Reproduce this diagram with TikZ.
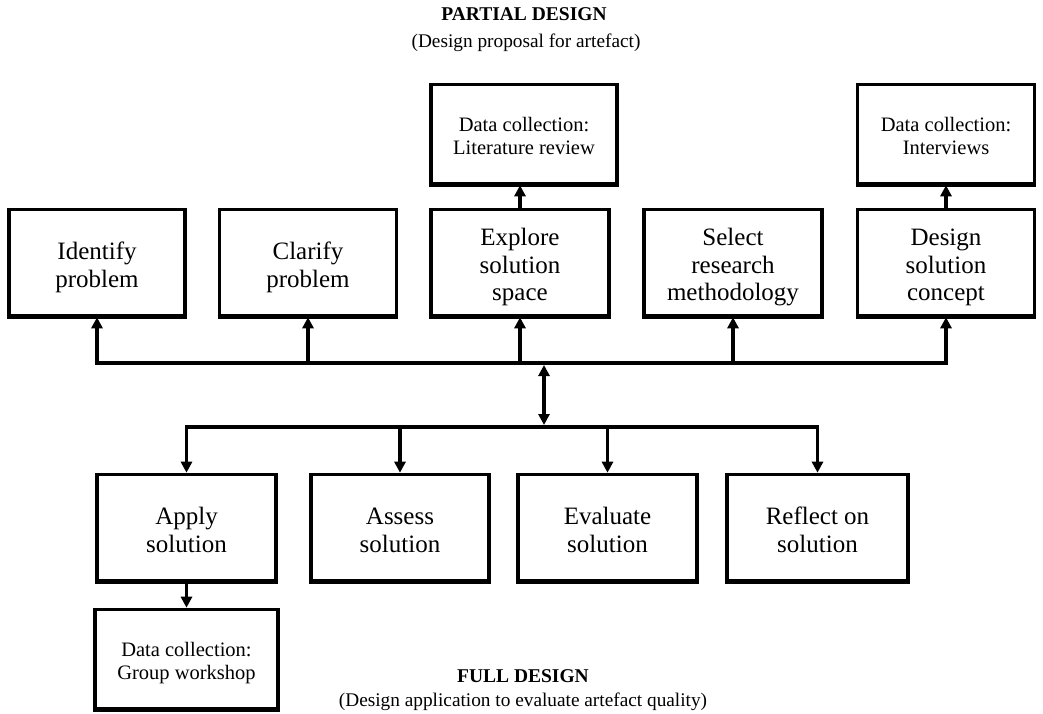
\documentclass[tikz,border=0pt]{standalone}
\usepackage{fontspec}
\setmainfont{Liberation Serif}
\usetikzlibrary{arrows.meta}

% fixed ascent for the first line and descent for the last line of box labels
\newcommand{\boxtop}{\rule{0pt}{1.2em}}
\newcommand{\boxbot}{\rule[-0.33em]{0pt}{0pt}}

\tikzset{
  box/.style={draw, line width=3.6pt, align=center, inner sep=2pt,
    font=\fontsize{25}{27.5}\selectfont},
  databox/.style={box, font=\fontsize{20.5}{23}\selectfont},
  bar/.style={line width=3.4pt},
  arr/.style={line width=3.4pt, -{Triangle[length=11pt,width=11pt]}},
  dblarr/.style={line width=3.4pt, {Triangle[length=11pt,width=11pt]}-{Triangle[length=11pt,width=11pt]}},
  heavybottom/.style={line width=4.4pt, line cap=butt},
  title/.style={font=\fontsize{19.5}{21}\selectfont\bfseries},
  subtitle/.style={font=\fontsize{19.3}{21}\selectfont},
}

\begin{document}
\begin{tikzpicture}[x=1pt,y=-1pt]
\useasboundingbox (0,0) rectangle (1043,714);

% headings
\node[title] (ptitle) at (524,14) {PARTIAL DESIGN};
\node[subtitle] (psub) at (526,43) {(Design proposal for artefact)};
\node[title] (ftitle) at (523,676) {FULL DESIGN};
\node[subtitle] (fsub) at (523,702) {(Design application to evaluate artefact quality)};

% partial design activities
\node[box, minimum width=176pt, minimum height=106pt] (identify) at (97,262.5) {\boxtop Identify\\problem\boxbot};
\node[box, minimum width=177pt, minimum height=106pt] (clarify) at (308,262.5) {\boxtop Clarify\\problem\boxbot};
\node[box, minimum width=178pt, minimum height=106pt] (explore) at (520,262.5) {\boxtop Explore\\solution\\space\boxbot};
\node[box, minimum width=178pt, minimum height=106pt] (select) at (733,262.5) {\boxtop Select\\research\\methodology\boxbot};
\node[box, minimum width=177pt, minimum height=106pt] (design) at (946,262.5) {\boxtop Design\\solution\\concept\boxbot};

% data collection during partial design
\node[databox, minimum width=186pt, minimum height=99pt] (lit) at (524,134) {\boxtop Data collection:\\Literature review\boxbot};
\node[databox, minimum width=177pt, minimum height=99pt] (interv) at (946,134) {\boxtop Data collection:\\Interviews\boxbot};

% full design activities
\node[box, minimum width=179pt, minimum height=106pt] (apply) at (186.5,527.5) {\boxtop Apply\\solution\boxbot};
\node[box, minimum width=178pt, minimum height=106pt] (assess) at (400,527.5) {\boxtop Assess\\solution\boxbot};
\node[box, minimum width=179pt, minimum height=106pt] (evaluate) at (607.5,527.5) {\boxtop Evaluate\\solution\boxbot};
\node[box, minimum width=181pt, minimum height=106pt] (reflect) at (817.5,527.5) {\boxtop Reflect on\\solution\boxbot};

% data collection during full design
\node[databox, minimum width=183pt, minimum height=99pt] (group) at (186.5,659) {\boxtop Data collection:\\Group workshop\boxbot};

% heavier lower edge on every box
\foreach \n in {identify,clarify,explore,select,design,lit,interv,apply,assess,evaluate,reflect,group}
  \draw[heavybottom] ([yshift=0.2pt]\n.south west) -- ([yshift=0.2pt]\n.south east);

% upper distribution bus
\coordinate (tbusL) at (identify.south |- 0,363);
\coordinate (tbusR) at (design.south |- 0,363);
\draw[bar, line cap=rect] (tbusL) -- (tbusR);
\foreach \n in {identify,clarify,explore,select,design}
  \draw[arr] (\n.south |- tbusL) -- (\n.south);

% lower distribution bus
\coordinate (lbusL) at (apply.north |- 0,427);
\coordinate (lbusR) at (reflect.north |- 0,427);
\draw[bar, line cap=rect] (lbusL) -- (lbusR);
\foreach \n in {apply,assess,evaluate,reflect}
  \draw[arr] (\n.north |- lbusL) -- (\n.north);

% two-way link between the buses
\coordinate (linkT) at (544,365);
\coordinate (linkB) at (544,425);
\draw[dblarr] (linkT) -- (linkB);

% links to data collection
\draw[arr] (explore.north) -- (explore.north |- lit.south);
\draw[arr] (design.north) -- (interv.south);
\draw[arr] (apply.south) -- (group.north);
\end{tikzpicture}
\end{document}
